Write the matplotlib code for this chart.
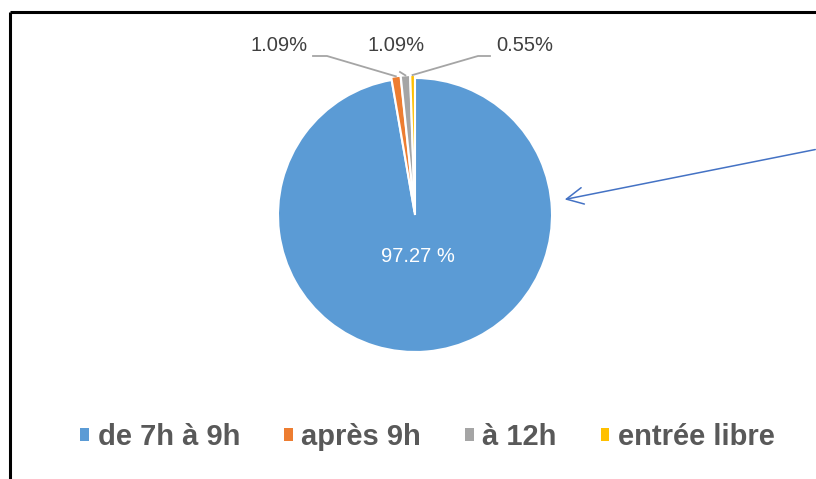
import numpy as np
import matplotlib.pyplot as plt
from matplotlib.patches import Patch

categories = ['de 7h à 9h', 'après 9h', 'à 12h', 'entrée libre']
values = [97.27, 1.09, 1.09, 0.55]
labels = ['97.27 %', '1.09%', '1.09%', '0.55%']
colors = ['#5B9BD5', '#ED7D31', '#A5A5A5', '#FFC000']

W, H = 816, 479
fig = plt.figure(figsize=(W / 100, H / 100), dpi=100, facecolor='white')
ax = fig.add_axes([0, 0, 1, 1])


def fy(y):
    return H - y


cx, cy, r = 415, fy(215), 137
wedges, _ = ax.pie(values, colors=colors, startangle=90, counterclock=False,
                   center=(cx, cy), radius=r, explode=[0, 3, 3, 3],
                   wedgeprops=dict(edgecolor='white', linewidth=1.5),
                   frame=True)
ax.set_xlim(0, W)
ax.set_ylim(0, H)
ax.set_aspect('equal')
ax.axis('off')

ax.text(cx + 3, fy(256), labels[0], color='white', fontsize=14.5,
        family='Liberation Sans', ha='center', va='center')

# small slice labels with leader lines
label_pos = [(279, 45), (396, 45), (525, 45)]
elbows = [[(313, 56), (327, 56)], [(400, 72)], [(490, 56), (478, 56)]]
for i, (lx, ly) in enumerate(label_pos):
    w = wedges[i + 1]
    ang = np.deg2rad((w.theta1 + w.theta2) / 2)
    px = w.center[0] + r * np.cos(ang)
    py = w.center[1] + r * np.sin(ang)
    pts = [(x, fy(y)) for x, y in elbows[i]] + [(px, py)]
    ax.plot([p[0] for p in pts], [p[1] for p in pts], color='#A5A5A5', lw=1.3)
    ax.text(lx, fy(ly), labels[i + 1], color='#404040', fontsize=14.5,
            family='Liberation Sans', ha='center', va='center')

# arrow
ax.annotate('', xy=(562, fy(200)), xytext=(818, fy(149)),
            arrowprops=dict(arrowstyle='->,head_length=1.2,head_width=0.6',
                            color='#4472C4', lw=1.1))

# frame
ax.plot([10, W], [fy(12), fy(12)], color='black', lw=2.2, solid_capstyle='butt')
ax.plot([10, 10], [fy(12), 0], color='black', lw=2.2, solid_capstyle='butt')

handles = [Patch(facecolor=c, edgecolor='none') for c in colors]
leg = fig.legend(handles, categories, loc='center', bbox_to_anchor=(0.524, 0.088),
                 ncol=4, frameon=False, handlelength=0.3, handleheight=0.3,
                 handletextpad=0.3, columnspacing=1.5,
                 prop=dict(family='Liberation Sans', weight='bold', size=21))
for t in leg.get_texts():
    t.set_color('#595959')

plt.savefig('out.png', dpi=100, facecolor='white')
